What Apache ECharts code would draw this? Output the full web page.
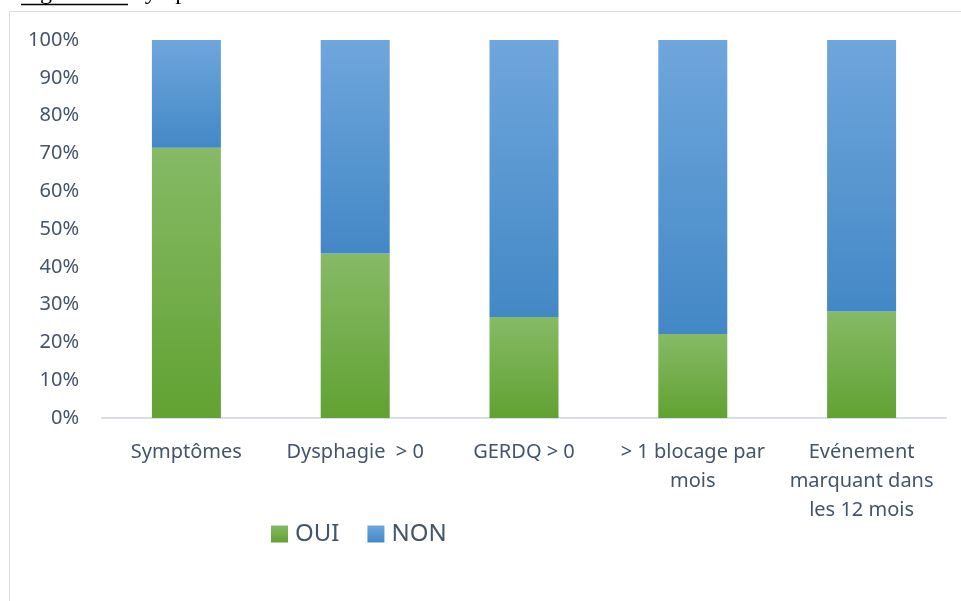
<!DOCTYPE html>
<html><head><meta charset="utf-8">
<script src="https://cdn.jsdelivr.net/npm/echarts@6/dist/echarts.min.js"></script>
<style>html,body{margin:0;padding:0;background:#fff}#c{width:961px;height:601px}</style>
</head><body><div id="c"></div>
<script>
const categories = ['Symptômes', 'Dysphagie  > 0', 'GERDQ > 0', '> 1 blocage par\nmois', 'Evénement\nmarquant dans\nles 12 mois'];
const oui = [71.5, 43.5, 26.7, 22.2, 28.2];
const non = [28.5, 56.5, 73.3, 77.8, 71.8];
const seriesNames = ['OUI', 'NON'];

const txt = '#44546A';
const font = 'Noto Sans';
const green = {type:'linear',x:0,y:0,x2:0,y2:1,colorStops:[{offset:0,color:'#86BA66'},{offset:1,color:'#61A232'}]};
const blue = {type:'linear',x:0,y:0,x2:0,y2:1,colorStops:[{offset:0,color:'#6FA6DC'},{offset:1,color:'#4388C6'}]};

const chart = echarts.init(document.getElementById('c'), null, {renderer:'canvas'});
chart.setOption({
  animation:false,
  backgroundColor:'#fff',
  graphic:[
    {type:'line', shape:{x1:9.5,y1:11.5,x2:961,y2:11.5}, style:{stroke:'#D9DEE6',lineWidth:1}},
    {type:'line', shape:{x1:9.5,y1:11.5,x2:9.5,y2:601}, style:{stroke:'#D9DEE6',lineWidth:1}},
    {type:'text', left:20, top:-19, style:{text:'Figure 10 : Symptômes', font:'24px "Liberation Serif"', fill:'#000'}},
    {type:'line', shape:{x1:21,y1:4.5,x2:128,y2:4.5}, style:{stroke:'#000',lineWidth:1.5}}
  ],
  grid:{left:102, right:15, top:40, bottom:183, containLabel:false},
  legend:{
    data:seriesNames, left:266, top:517, itemWidth:17, itemHeight:17, itemGap:28,
    icon:'rect',
    textStyle:{color:txt, fontFamily:font, fontSize:24, padding:[0,0,0,2]}
  },
  xAxis:{
    type:'category', data:categories,
    axisLine:{lineStyle:{color:'#D9DEE6',width:2}},
    axisTick:{show:false},
    axisLabel:{color:txt, fontFamily:font, fontSize:20, lineHeight:29, margin:20, interval:0}
  },
  yAxis:{
    type:'value', min:0, max:100, interval:10,
    axisLine:{show:false}, axisTick:{show:false},
    splitLine:{show:false},
    axisLabel:{color:txt, fontFamily:font, fontSize:20, margin:23, formatter:'{value}%'}
  },
  series:[
    {name:'OUI', type:'bar', stack:'a', data:oui, barWidth:69, itemStyle:{color:green}},
    {name:'NON', type:'bar', stack:'a', data:non, barWidth:69, itemStyle:{color:blue}}
  ]
});
</script></body></html>
